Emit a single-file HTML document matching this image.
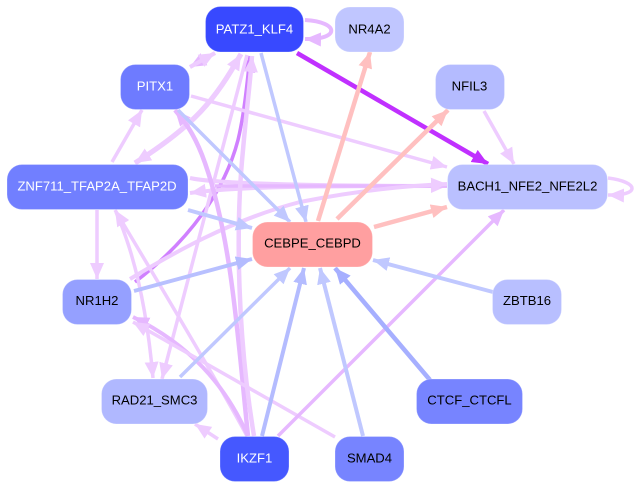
<!DOCTYPE html>
<html>
<head>
<meta charset="utf-8">
<style>
html,body{margin:0;padding:0;background:#fff;width:638px;height:489px;overflow:hidden}
svg{display:block}
text{font-family:"Liberation Sans",sans-serif;font-size:13.1px;text-anchor:middle;dominant-baseline:central}
path{fill:none}
</style>
</head>
<body>
<svg width="638" height="489" viewBox="0 0 638 489" xmlns="http://www.w3.org/2000/svg">
<defs>
<marker id="lp" markerUnits="userSpaceOnUse" markerWidth="18" markerHeight="16" refX="16" refY="7" orient="auto"><path d="M0 0L16 7L0 14Z" style="fill:#eeccff"/></marker>
<marker id="mp" markerUnits="userSpaceOnUse" markerWidth="18" markerHeight="16" refX="16" refY="7" orient="auto"><path d="M0 0L16 7L0 14Z" style="fill:#e6b8ff"/></marker>
<marker id="dp" markerUnits="userSpaceOnUse" markerWidth="18" markerHeight="16" refX="16" refY="7" orient="auto"><path d="M0 0L16 7L0 14Z" style="fill:#d080ff"/></marker>
<marker id="vp" markerUnits="userSpaceOnUse" markerWidth="18" markerHeight="16" refX="16" refY="7" orient="auto"><path d="M0 0L16 7L0 14Z" style="fill:#c030ff"/></marker>
<marker id="b1" markerUnits="userSpaceOnUse" markerWidth="18" markerHeight="16" refX="16" refY="7" orient="auto"><path d="M0 0L16 7L0 14Z" style="fill:#c0c8ff"/></marker>
<marker id="b2" markerUnits="userSpaceOnUse" markerWidth="18" markerHeight="16" refX="16" refY="7" orient="auto"><path d="M0 0L16 7L0 14Z" style="fill:#b4bcff"/></marker>
<marker id="b3" markerUnits="userSpaceOnUse" markerWidth="18" markerHeight="16" refX="16" refY="7" orient="auto"><path d="M0 0L16 7L0 14Z" style="fill:#a6afff"/></marker>
<marker id="r1" markerUnits="userSpaceOnUse" markerWidth="18" markerHeight="16" refX="16" refY="7" orient="auto"><path d="M0 0L16 7L0 14Z" style="fill:#ffc0c0"/></marker>
</defs>

<!-- edges -->
<g stroke-width="3.500">
<path d="M135 282C190 240 225 190 238 140C244 115 247 85 250 56" stroke="#d080ff" marker-end="url(#dp)"/>
<path d="M297 53L488 164" stroke="#c030ff" stroke-width="4.500" marker-end="url(#vp)"/>
<path d="M191 96L447 167" stroke="#eeccff" marker-end="url(#lp)"/>
<path d="M190 178C215 184 330 186 447 186" stroke="#eeccff" stroke-width="4" marker-end="url(#lp)"/>
<path d="M447 186C330 186 240 186 190 193" stroke="#eeccff" stroke-width="4" marker-end="url(#lp)"/>
<path d="M215 186L447 186" stroke="#e6b8ff"/>
<path d="M130 279C170 255 230 220 300 202C350 192 400 186 447 184" stroke="#eeccff" stroke-width="4" marker-end="url(#lp)"/>
<path d="M241 54C215 100 195 125 135 163" stroke="#eeccff" stroke-width="5" marker-end="url(#lp)"/>
<path d="M135 163C195 125 215 100 241 54" stroke="#eeccff" stroke-width="5" marker-end="url(#lp)"/>
<path d="M215 53L190 67" stroke="#eeccff" stroke-width="4" marker-end="url(#mp)"/>
<path d="M190 67L215 53" stroke="#eeccff" stroke-width="4" marker-end="url(#lp)"/>
<path d="M112 162L142 110" stroke="#eeccff" marker-end="url(#lp)"/>
<path d="M97 210L97 279" stroke="#eeccff" marker-end="url(#lp)"/>
<path d="M116 212C135 255 147 310 153 378" stroke="#eeccff" marker-end="url(#lp)"/>
<path d="M247 436C225 395 190 335 115 210" stroke="#eeccff" marker-end="url(#lp)"/>
<path d="M247 55L162 379" stroke="#eeccff" marker-end="url(#lp)"/>
<path d="M248 436C238 340 232 240 205 163C197 140 188 125 175 110" stroke="#e6b8ff" stroke-width="4.500" marker-end="url(#mp)"/>
<path d="M254 436C238 340 235 230 243 150C246 115 250 85 252 56" stroke="#eeccff" stroke-width="4.500" marker-end="url(#lp)"/>
<path d="M247 434C225 385 190 345 133 317" stroke="#e6b8ff" stroke-width="4" marker-end="url(#mp)"/>
<path d="M335 437L133 322" stroke="#eeccff" marker-end="url(#lp)"/>
<path d="M218 439L195 424" stroke="#eeccff" marker-end="url(#lp)"/>
<path d="M278 436L504 210" stroke="#e6b8ff" marker-end="url(#mp)"/>
<path d="M484 111L514 164" stroke="#eeccff" marker-end="url(#lp)"/>
<path d="M608 178C640 182 640 196 608 195" stroke="#eeccff" marker-end="url(#lp)"/>
<path d="M305 20C340 22 340 40 305 39" stroke="#e6b8ff" stroke-width="4" marker-end="url(#mp)"/>

<path d="M178 110L290 222" stroke="#c0c8ff" marker-end="url(#b1)"/>
<path d="M261 53L306 222" stroke="#c0c8ff" marker-end="url(#b1)"/>
<path d="M188 210L252 228" stroke="#c0c8ff" stroke-width="4" marker-end="url(#b1)"/>
<path d="M134 291L252 259" stroke="#b8c0ff" stroke-width="4" marker-end="url(#b2)"/>
<path d="M180 377L290 268" stroke="#c0c8ff" marker-end="url(#b1)"/>
<path d="M262 436L304 268" stroke="#b4bcff" stroke-width="4" marker-end="url(#b2)"/>
<path d="M363 436L320 268" stroke="#c0c8ff" stroke-width="4" marker-end="url(#b1)"/>
<path d="M430 380L335 268" stroke="#a6afff" stroke-width="4.500" marker-end="url(#b3)"/>
<path d="M493 292L373 260" stroke="#c0c8ff" stroke-width="4" marker-end="url(#b1)"/>

<path d="M318 221L370 52" stroke="#ffc0c0" stroke-width="4.500" marker-end="url(#r1)"/>
<path d="M337 219L448 110" stroke="#ffc0c0" stroke-width="4.500" marker-end="url(#r1)"/>
<path d="M374 227L447 207" stroke="#ffc0c0" stroke-width="4.500" marker-end="url(#r1)"/>
</g>

<!-- nodes -->
<g stroke-width="1" stroke="#fff" stroke-opacity="0.25">
<rect x="205.500" y="6.500" width="98" height="45.500" rx="15" fill="#3849ff"/>
<rect x="335" y="7" width="69" height="45" rx="15" fill="#c0c6ff"/>
<rect x="120.500" y="64.500" width="69" height="45" rx="15" fill="#6e7bff"/>
<rect x="435.500" y="64.500" width="69" height="45" rx="15" fill="#b4bbff"/>
<rect x="7" y="164.500" width="181" height="45" rx="15" fill="#717fff"/>
<rect x="447.500" y="164.500" width="160" height="45" rx="15" fill="#bac0ff"/>
<rect x="252.500" y="222" width="120" height="45" rx="15" fill="#ff9fa0"/>
<rect x="62.500" y="279.500" width="69" height="45" rx="15" fill="#95a0ff"/>
<rect x="492.500" y="279.500" width="69" height="45" rx="15" fill="#b8bfff"/>
<rect x="101.500" y="379" width="106" height="45" rx="15" fill="#b0b8ff"/>
<rect x="416.500" y="379" width="106" height="45" rx="15" fill="#7784ff"/>
<rect x="220" y="436.500" width="69" height="45" rx="15" fill="#4558ff"/>
<rect x="335" y="436.500" width="69" height="45" rx="15" fill="#7784ff"/>
</g>

<!-- labels -->
<g fill="#000">
<text x="254.500" y="29" fill="#fff">PATZ1_KLF4</text>
<text x="369.500" y="29">NR4A2</text>
<text x="155" y="86" fill="#fff">PITX1</text>
<text x="469.500" y="86">NFIL3</text>
<text x="97" y="186" fill="#fff">ZNF711_TFAP2A_TFAP2D</text>
<text x="527.500" y="186">BACH1_NFE2_NFE2L2</text>
<text x="312.500" y="243">CEBPE_CEBPD</text>
<text x="97" y="300.500">NR1H2</text>
<text x="527" y="300.500">ZBTB16</text>
<text x="154.500" y="400">RAD21_SMC3</text>
<text x="469.500" y="400">CTCF_CTCFL</text>
<text x="254.500" y="458" fill="#fff">IKZF1</text>
<text x="369.500" y="458">SMAD4</text>
</g>
</svg>
</body>
</html>
